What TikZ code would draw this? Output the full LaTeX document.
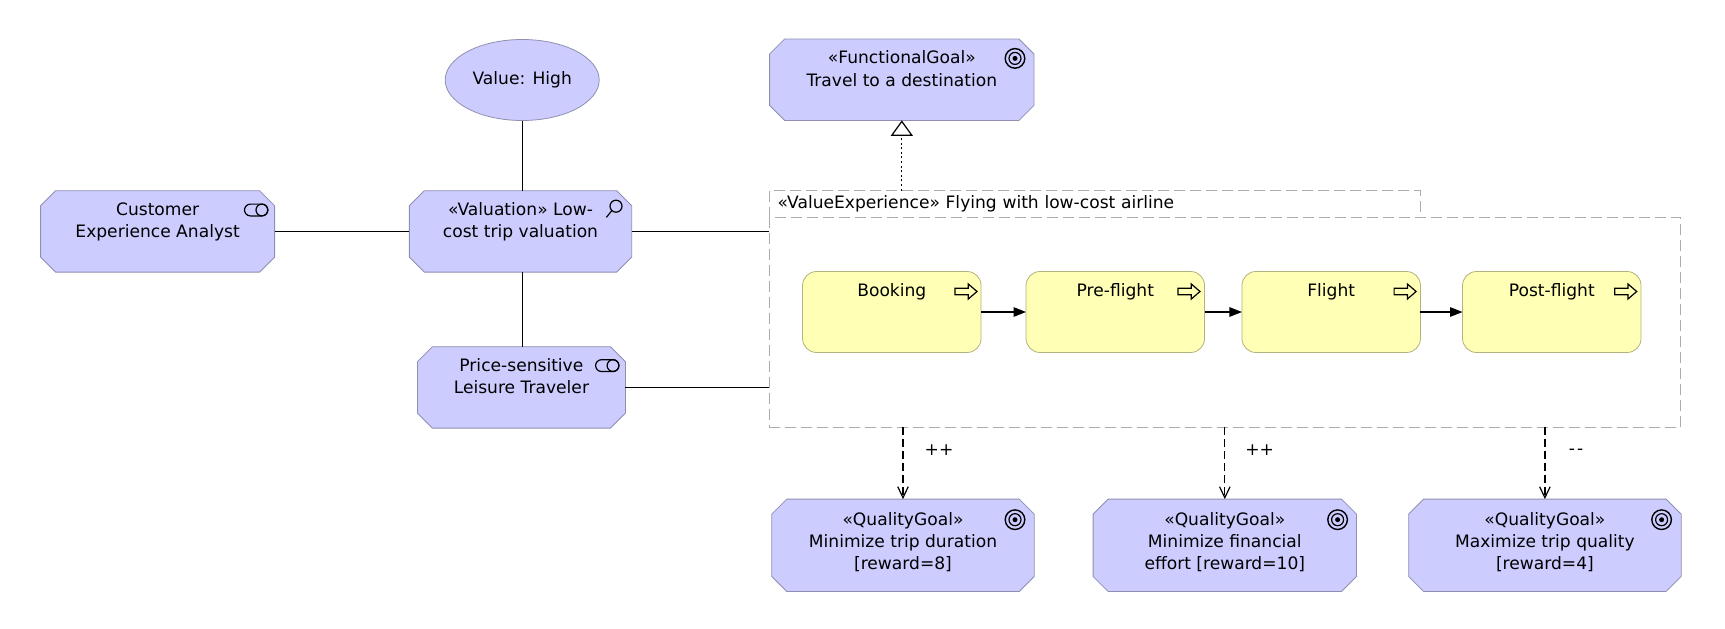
\documentclass[tikz,border=0pt]{standalone}
\usepackage{fontspec}
\setmainfont{DejaVu Sans}
\usetikzlibrary{arrows.meta,shapes.geometric}
\definecolor{mot}{HTML}{CCCCFF}
\definecolor{motl}{HTML}{8F8FB2}
\definecolor{bus}{HTML}{FFFFB5}
\definecolor{busl}{HTML}{B2B27F}
\definecolor{grp}{HTML}{ABABB0}
\makeatletter
\pgfdeclareshape{octbox}{%
  \inheritsavedanchors[from=rectangle]
  \inheritanchorborder[from=rectangle]
  \inheritanchor[from=rectangle]{center}
  \inheritanchor[from=rectangle]{north}
  \inheritanchor[from=rectangle]{south}
  \inheritanchor[from=rectangle]{east}
  \inheritanchor[from=rectangle]{west}
  \backgroundpath{%
    \southwest \pgf@xa=\pgf@x \pgf@ya=\pgf@y
    \northeast \pgf@xb=\pgf@x \pgf@yb=\pgf@y
    \pgfpathmoveto{\pgfqpoint{\pgf@xa}{\dimexpr\pgf@ya+15pt\relax}}
    \pgfpathlineto{\pgfqpoint{\pgf@xa}{\dimexpr\pgf@yb-15pt\relax}}
    \pgfpathlineto{\pgfqpoint{\dimexpr\pgf@xa+15pt\relax}{\pgf@yb}}
    \pgfpathlineto{\pgfqpoint{\dimexpr\pgf@xb-15pt\relax}{\pgf@yb}}
    \pgfpathlineto{\pgfqpoint{\pgf@xb}{\dimexpr\pgf@yb-15pt\relax}}
    \pgfpathlineto{\pgfqpoint{\pgf@xb}{\dimexpr\pgf@ya+15pt\relax}}
    \pgfpathlineto{\pgfqpoint{\dimexpr\pgf@xb-15pt\relax}{\pgf@ya}}
    \pgfpathlineto{\pgfqpoint{\dimexpr\pgf@xa+15pt\relax}{\pgf@ya}}
    \pgfpathclose
  }%
}
\makeatother
\tikzset{
  every node/.style={font=\fontsize{17.1}{22.2}\selectfont,inner sep=0pt,outer sep=0pt},
  motbox/.style={octbox,draw=motl,fill=mot,line width=0.8pt,align=center},
  probox/.style={rounded corners=14pt,rectangle,draw=busl,fill=bus,line width=0.8pt,align=center,minimum width=178.5pt,minimum height=81pt},
  valbox/.style={ellipse,draw=motl,fill=mot,line width=0.8pt,minimum width=154pt,minimum height=81pt},
  grpline/.style={draw=grp,line width=0.8pt,dash pattern=on 11pt off 5pt},
  assoc/.style={line width=1.2pt,black},
  flow/.style={line width=1.2pt,black,-{Triangle[length=12.5pt,width=9.5pt]}},
  realize/.style={line width=1.2pt,black,dash pattern=on 2pt off 2.6pt,-{Triangle[open,fill=white,length=15.4pt,width=22pt,line width=1.2pt]}},
  influence/.style={line width=1.2pt,black,dash pattern=on 8pt off 4pt,-{Straight Barb[length=11pt,width=10.5pt,line width=1.2pt]}},
  icon/.style={line width=1.2pt,black},
}
\newcommand{\goalicon}[2]{%
  \draw[icon,line width=1.4pt] (#1,#2) circle[radius=9.8pt];
  \draw[icon] (#1,#2) circle[radius=6pt];
  \fill[black] (#1,#2) circle[radius=2.5pt];}
\newcommand{\actoricon}[2]{%
  \draw[icon,rounded corners=5.9pt] (#1-17.4,#2-5.9) rectangle (#1+5.9,#2+5.9);
  \draw[icon] (#1,#2) circle[radius=5.9pt];}
\newcommand{\procicon}[2]{%
  \draw[icon,line join=miter] (#1-26.3,#2-3.3) -- (#1-13,#2-3.3) -- (#1-13,#2-7.5) -- (#1-4.3,#2) -- (#1-13,#2+7.5) -- (#1-13,#2+3.3) -- (#1-26.3,#2+3.3) -- cycle;}
\begin{document}
\begin{tikzpicture}[x=1pt,y=-1pt]
\useasboundingbox (0,0) rectangle (1725,629);

% group
\node[rectangle,grpline,minimum width=911.4pt,minimum height=210pt] (cont) at (1225,322.3) {};
\node[rectangle,minimum width=650.7pt,minimum height=27.3pt,text width=634pt,align=left] (tab) at (1094.65,204.2) {«ValueExperience» Flying with low-cost airline};
\draw[grpline] (tab.south west) -- (tab.north west) -- (tab.north east) -- (tab.south east);

% elements
\node[valbox] (val) at (522.2,80) {Value: High};
\node[motbox,minimum width=234pt,minimum height=81.4pt] (analyst) at (157.6,231.4) {Customer\\Experience Analyst\\\mbox{}};
\node[motbox,minimum width=222.3pt,minimum height=81.4pt] (valuation) at (520.5,231.4) {«Valuation» Low-\\cost trip valuation\\\mbox{}};
\node[motbox,minimum width=208pt,minimum height=81.4pt] (traveler) at (521.4,387.4) {Price-sensitive\\Leisure Traveler\\\mbox{}};
\node[motbox,minimum width=264.4pt,minimum height=81.4pt] (travel) at (901.8,79.7) {«FunctionalGoal»\\Travel to a destination\\\mbox{}};

\node[probox] (booking) at (891.8,312) {Booking\\\mbox{}\\\mbox{}};
\node[probox] (preflight) at (1115.3,312) {Pre-flight\\\mbox{}\\\mbox{}};
\node[probox] (flight) at (1331.2,312) {Flight\\\mbox{}\\\mbox{}};
\node[probox] (postflight) at (1551.8,312) {Post-flight\\\mbox{}\\\mbox{}};

\node[motbox,minimum width=262.4pt,minimum height=92.4pt] (q1) at (903,545.3) {«QualityGoal»\\Minimize trip duration\\{[reward=8]}\\[-13pt]\mbox{}};
\node[motbox,minimum width=263.4pt,minimum height=92.4pt] (q2) at (1224.8,545.3) {«QualityGoal»\\Minimize financial\\effort [reward=10]\\[-13pt]\mbox{}};
\node[motbox,minimum width=272.5pt,minimum height=92.4pt] (q3) at (1544.9,545.3) {«QualityGoal»\\Maximize trip quality\\{[reward=4]}\\[-13pt]\mbox{}};

% connectors
\draw[assoc] (analyst.east) -- (valuation.west);
\draw[assoc] (val.south) -- (val.south |- valuation.north);
\draw[assoc] (val.south |- valuation.south) -- (val.south |- traveler.north);
\draw[assoc] (valuation.east) -- (valuation.east -| cont.west);
\draw[assoc] (traveler.east) -- (traveler.east -| cont.west);
\draw[realize] (travel.south |- tab.north) -- (travel.south);
\draw[flow] (booking.east) -- (preflight.west);
\draw[flow] (preflight.east) -- (flight.west);
\draw[flow] (flight.east) -- (postflight.west);
\draw[influence] (q1.north |- cont.south) -- (q1.north);
\draw[influence] (q2.north |- cont.south) -- (q2.north);
\draw[influence] (q3.north |- cont.south) -- (q3.north);

% connector labels
\node (l1) at (939,450.6) {++};
\node (l2) at (1259.6,450.6) {++};
\node (l3) at (1576,452) {-\kern2pt{}-};

% icons
\goalicon{1015}{58.4}
\goalicon{1015}{519.7}
\goalicon{1337.6}{519.7}
\goalicon{1661.6}{519.7}
\actoricon{261.9}{210}
\actoricon{613}{365.6}
\draw[icon] (616,206.2) circle[radius=6pt];
\draw[icon] (611.8,210.6) -- (606.4,217.4);
\procicon{981.3}{291.5}
\procicon{1204.3}{291.5}
\procicon{1420.4}{291.5}
\procicon{1641}{291.5}
\end{tikzpicture}
\end{document}
